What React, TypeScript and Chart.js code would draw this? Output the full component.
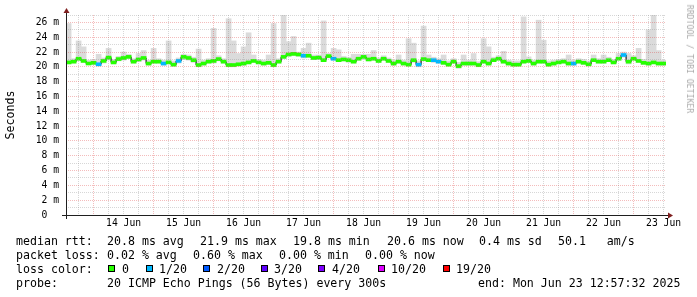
import React, { useEffect, useRef } from "react";
import { Chart, registerables } from "chart.js";

Chart.register(...registerables);

// ---- time axis (hours since 13 Jun 00:00) ----
const START_HOUR = 12.959; // Mon Jun 13 12:57:32
const END_HOUR = 252.959; // Mon Jun 23 12:57:32
const FIRST_SAMPLE_HOUR = 14;
const SAMPLE_STEP_HOURS = 2;

// ---- tick labels ----
const dayLabels = ["14 Jun", "15 Jun", "16 Jun", "17 Jun", "18 Jun", "19 Jun", "20 Jun", "21 Jun", "22 Jun", "23 Jun"];
const yTickLabels = ["0  ", "2 m", "4 m", "6 m", "8 m", "10 m", "12 m", "14 m", "16 m", "18 m", "20 m", "22 m", "24 m", "26 m"];

// ---- series (ms) ----
const medianRtt = [
  20.6, 20.7, 21.1, 20.8, 20.45, 20.55, 20.35, 20.8, 21.25, 20.6, 21.05, 21.2, 21.35, 20.7, 21.0, 21.2, 20.45, 20.7, 20.7, 20.45, 20.6, 20.3, 20.8, 21.35, 21.2, 20.9, 20.25, 20.45, 20.7, 20.8,
  21.05, 20.7, 20.25, 20.25, 20.35, 20.45, 20.6, 20.8, 20.6, 20.45, 20.55, 20.25, 20.7, 21.35, 21.67, 21.75, 21.67, 21.5, 21.5, 21.2, 21.25, 20.9, 21.45, 21.1, 20.9, 21.0, 20.9, 20.7, 21.1, 21.35,
  21.0, 21.1, 20.8, 21.1, 20.8, 20.45, 20.7, 20.45, 20.3, 20.9, 20.3, 21.05, 20.9, 20.9, 20.7, 20.55, 20.3, 20.7, 20.1, 20.45, 20.45, 20.45, 20.25, 20.7, 20.45, 20.9, 21.1, 20.7, 20.45, 20.3,
  20.3, 20.7, 20.8, 20.45, 20.7, 20.7, 20.3, 20.45, 20.6, 20.7, 20.45, 20.45, 20.7, 20.55, 20.35, 20.9, 20.7, 20.7, 20.9, 20.6, 21.1, 21.6, 20.7, 21.1, 20.8, 20.55, 20.45, 20.6, 20.45, 20.45,
];
const smokeMin = [
  20.4, 20.5, 20.8, 20.6, 20.3, 20.3, 20.1, 20.5, 20.9, 20.4, 20.8, 20.9, 21.1, 20.5, 20.7, 20.9, 20.2, 20.5, 20.5, 20.2, 20.4, 20.1, 20.5, 21.0, 20.9, 20.6, 20.0, 20.2, 20.5, 20.5,
  20.8, 20.5, 20.0, 20.0, 20.1, 20.2, 20.4, 20.6, 20.4, 20.2, 20.3, 20.0, 20.5, 21.1, 21.4, 21.5, 21.4, 21.2, 21.3, 21.0, 21.0, 20.7, 21.2, 20.9, 20.7, 20.8, 20.6, 20.5, 20.9, 21.1,
  20.8, 20.9, 20.6, 20.9, 20.6, 20.2, 20.5, 20.2, 20.1, 20.6, 20.0, 20.8, 20.7, 20.6, 20.5, 20.3, 20.1, 20.5, 19.8, 20.2, 20.2, 20.2, 20.0, 20.5, 20.2, 20.7, 20.9, 20.5, 20.2, 20.1,
  20.1, 20.5, 20.6, 20.2, 20.5, 20.5, 20.1, 20.2, 20.4, 20.5, 20.2, 20.2, 20.5, 20.3, 20.1, 20.7, 20.5, 20.5, 20.7, 20.4, 20.9, 21.3, 20.4, 20.9, 20.6, 20.3, 20.2, 20.4, 20.2, 20.2,
];
const smokeMax = [
  25.85, 21.1, 23.5, 22.7, 20.9, 21.0, 21.7, 21.2, 22.5, 21.0, 21.4, 22.0, 21.7, 21.1, 21.8, 22.2, 20.9, 22.5, 21.1, 20.9, 23.5, 20.8, 21.2, 21.7, 21.6, 21.3, 22.4, 20.9, 21.1, 25.2,
  21.5, 21.1, 26.5, 23.5, 21.8, 22.7, 24.6, 21.6, 21.0, 20.9, 21.6, 25.85, 21.1, 27.0, 23.4, 24.1, 22.0, 22.5, 23.2, 21.6, 21.6, 26.2, 21.8, 22.5, 22.3, 21.4, 21.3, 21.7, 21.7, 21.7,
  21.7, 22.2, 21.2, 21.5, 21.2, 20.9, 21.6, 20.9, 23.8, 23.2, 20.8, 25.5, 21.6, 21.3, 21.1, 21.6, 20.8, 21.1, 20.6, 21.6, 20.9, 21.8, 20.7, 23.8, 22.7, 21.3, 21.5, 22.1, 20.9, 20.8,
  20.8, 26.75, 21.35, 20.9, 26.3, 23.6, 20.8, 20.9, 21.0, 21.1, 21.6, 20.9, 21.1, 21.0, 20.8, 21.6, 21.1, 21.6, 21.3, 21.0, 21.8, 22.0, 21.8, 21.5, 22.5, 21.0, 25.0, 27.0, 22.2, 20.9,
];
// packet loss per sample, index into lossColors (0 = 0/20, 1 = 1/20, ...)
const lossLevel = [
  0, 0, 0, 0, 0, 0, 1, 0, 0, 0, 0, 0, 0, 0, 0, 0, 0, 0, 0, 1, 0, 0, 1, 0, 0, 0, 0, 0, 0, 0,
  0, 0, 0, 0, 0, 0, 0, 0, 0, 0, 0, 0, 0, 0, 0, 0, 0, 1, 0, 0, 0, 0, 0, 1, 0, 0, 0, 0, 0, 0,
  0, 0, 0, 0, 0, 0, 0, 0, 0, 0, 1, 0, 0, 1, 1, 0, 0, 0, 0, 0, 0, 0, 0, 0, 0, 0, 0, 0, 0, 0,
  0, 0, 0, 0, 0, 0, 0, 0, 0, 0, 0, 1, 0, 0, 0, 0, 0, 0, 0, 0, 0, 1, 0, 0, 0, 0, 0, 0, 0, 0,
];

const lossColors = ["#26ff00", "#00b8ff", "#0059ff", "#5e00ff", "#7e00ff", "#dd00ff", "#ff0000"];
const lossLabels = ["0", "1/20", "2/20", "3/20", "4/20", "10/20", "19/20"];

const rttStats = ["20.8 ms avg", "21.9 ms max", "19.8 ms min", "20.6 ms now", "0.4 ms sd", "50.1   am/s"];
const lossStats = ["0.02 % avg", "0.60 % max", "0.00 % min", "0.00 % now"];
const probeText = "20 ICMP Echo Pings (56 Bytes) every 300s";
const endText = "end: Mon Jun 23 12:57:32 2025";
const creditText = "RRDTOOL / TOBI OETIKER";

// ---- layout / style ----
const MONO = "'DejaVu Sans Mono', monospace";
const MGRID = "rgba(222,48,48,0.32)";
const GRID = "rgba(143,143,143,0.36)";
const rttStatsX = [107, 200, 293, 387, 479, 558];
const lossStatsX = [107, 193, 279, 365];
const lossBoxX = [108, 146, 203, 261, 318, 378, 443];
const lossTextX = [122, 159, 217, 274, 332, 391, 456];

const axesPlugin = {
  id: "rrdAxes",
  afterDraw(chart: any) {
    const { ctx, chartArea } = chart;
    const { left, right, top, bottom } = chartArea;
    ctx.save();
    ctx.strokeStyle = "#1f1f1f";
    ctx.lineWidth = 1;
    ctx.beginPath();
    ctx.moveTo(left - 4, bottom + 0.5);
    ctx.lineTo(right + 4, bottom + 0.5);
    ctx.moveTo(left + 0.5, bottom + 4);
    ctx.lineTo(left + 0.5, top - 4);
    ctx.stroke();
    ctx.fillStyle = "#7f1f1f";
    ctx.beginPath();
    ctx.moveTo(right + 2, bottom + 0.5 - 3);
    ctx.lineTo(right + 2, bottom + 0.5 + 3);
    ctx.lineTo(right + 7, bottom + 0.5);
    ctx.closePath();
    ctx.fill();
    ctx.beginPath();
    ctx.moveTo(left + 0.5 - 3, top - 2);
    ctx.lineTo(left + 0.5 + 3, top - 2);
    ctx.lineTo(left + 0.5, top - 7);
    ctx.closePath();
    ctx.fill();
    ctx.restore();
  },
};

export default function App() {
  const ref = useRef<HTMLCanvasElement>(null);

  useEffect(() => {
    const hours = medianRtt.map((_, i) => FIRST_SAMPLE_HOUR + i * SAMPLE_STEP_HOURS);
    const chart = new Chart(ref.current as HTMLCanvasElement, {
      type: "bar",
      data: {
        datasets: [
          {
            type: "bar",
            label: "smoke",
            data: hours.map((h, i) => ({ x: h, y: [smokeMin[i], smokeMax[i]] })),
            backgroundColor: "#dbdbdb",
            borderWidth: 0,
            barPercentage: 1,
            categoryPercentage: 1,
            grouped: false,
            order: 3,
          } as any,
          {
            type: "line",
            label: "median",
            data: hours.map((h, i) => ({ x: h, y: medianRtt[i] })),
            borderColor: "#000000",
            borderWidth: 1,
            stepped: "middle",
            pointRadius: 0,
            fill: false,
            order: 2,
          } as any,
          {
            type: "bar",
            label: "loss",
            data: hours.map((h, i) => ({ x: h, y: [medianRtt[i] - 0.2, medianRtt[i] + 0.2] })),
            backgroundColor: lossLevel.map((l) => lossColors[l]),
            borderWidth: 0,
            barPercentage: 1,
            categoryPercentage: 1,
            grouped: false,
            order: 1,
          } as any,
        ],
      },
      options: {
        animation: false,
        responsive: false,
        maintainAspectRatio: false,
        layout: { padding: { left: 0, top: 15, right: 31, bottom: 0 } },
        plugins: { legend: { display: false }, tooltip: { enabled: false } },
        scales: {
          x: {
            type: "linear",
            min: START_HOUR,
            max: END_HOUR,
            offset: false,
            afterBuildTicks: (s: any) => {
              const t = [];
              for (let v = Math.ceil(s.min / 6) * 6; v <= s.max; v += 6) t.push({ value: v });
              s.ticks = t;
            },
            afterFit: (s: any) => {
              s.height = 82;
            },
            grid: {
              offset: false,
              drawTicks: false,
              lineWidth: 1,
              z: 1,
              color: (c: any) => (c.tick && c.tick.value % 24 === 0 ? MGRID : GRID),
            },
            border: { display: false, dash: [1, 1] },
            ticks: {
              autoSkip: false,
              maxRotation: 0,
              padding: 3,
              color: "#000",
              font: { family: MONO, size: 9.7 },
              callback: (v: any) => {
                const n = Number(v);
                if (n % 24 === 12) return dayLabels[(n - 36) / 24] ?? "";
                return "";
              },
            },
          } as any,
          y: {
            type: "linear",
            min: 0,
            max: 27,
            afterBuildTicks: (s: any) => {
              const t = [];
              for (let v = 0; v <= 27; v += 1) t.push({ value: v });
              s.ticks = t;
            },
            afterFit: (s: any) => {
              s.width = 66;
            },
            grid: {
              drawTicks: false,
              lineWidth: 1,
              z: 1,
              color: (c: any) => (c.tick && c.tick.value === 0 ? "rgba(0,0,0,0)" : c.tick && c.tick.value % 2 === 0 ? MGRID : GRID),
            },
            border: { display: false, dash: [1, 1] },
            ticks: {
              autoSkip: false,
              padding: 7,
              color: "#000",
              font: { family: MONO, size: 9.7 },
              callback: (v: any) => {
                const n = Number(v);
                return n % 2 === 0 ? yTickLabels[n / 2] ?? "" : "";
              },
            },
            title: {
              display: true,
              text: "Seconds",
              color: "#000",
              font: { family: MONO, size: 11.6 },
              padding: { top: 4, bottom: 0 },
            },
          } as any,
        },
      },
      plugins: [axesPlugin],
    } as any);
    return () => chart.destroy();
  }, []);

  const txt = (x: number, y: number, s: string, key: string) => (
    <span
      key={key}
      style={{ position: "absolute", left: x, top: y, whiteSpace: "pre", lineHeight: "14px", fontSize: 11.6 }}
    >
      {s}
    </span>
  );

  return (
    <div
      style={{
        position: "fixed",
        left: 0,
        top: 0,
        width: 697,
        height: 297,
        background: "#fff",
        fontFamily: MONO,
        color: "#000",
        overflow: "hidden",
      }}
    >
      <canvas ref={ref} width={697} height={297} style={{ position: "absolute", left: 0, top: 0, display: "block" }} />
      {txt(16, 234, "median rtt:", "r0")}
      {rttStats.map((s, i) => txt(rttStatsX[i], 234, s, "rs" + i))}
      {txt(16, 248, "packet loss:", "l0")}
      {lossStats.map((s, i) => txt(lossStatsX[i], 248, s, "ls" + i))}
      {txt(16, 262, "loss color:", "c0")}
      {lossLabels.map((s, i) => (
        <React.Fragment key={"lc" + i}>
          <div
            style={{
              position: "absolute",
              left: lossBoxX[i],
              top: 265,
              width: 7,
              height: 7,
              boxSizing: "border-box",
              border: "1px solid #000",
              background: lossColors[i],
            }}
          />
          {txt(lossTextX[i], 262, s, "lt" + i)}
        </React.Fragment>
      ))}
      {txt(16, 276, "probe:", "p0")}
      {txt(107, 276, probeText, "p1")}
      {txt(478, 276, endText, "p2")}
      <div
        style={{
          position: "absolute",
          left: 690,
          top: 59,
          transform: "translate(-50%, -50%) rotate(90deg)",
          whiteSpace: "nowrap",
          fontSize: 8.2,
          lineHeight: "10px",
          color: "#aaaaaa",
        }}
      >
        {creditText}
      </div>
    </div>
  );
}
